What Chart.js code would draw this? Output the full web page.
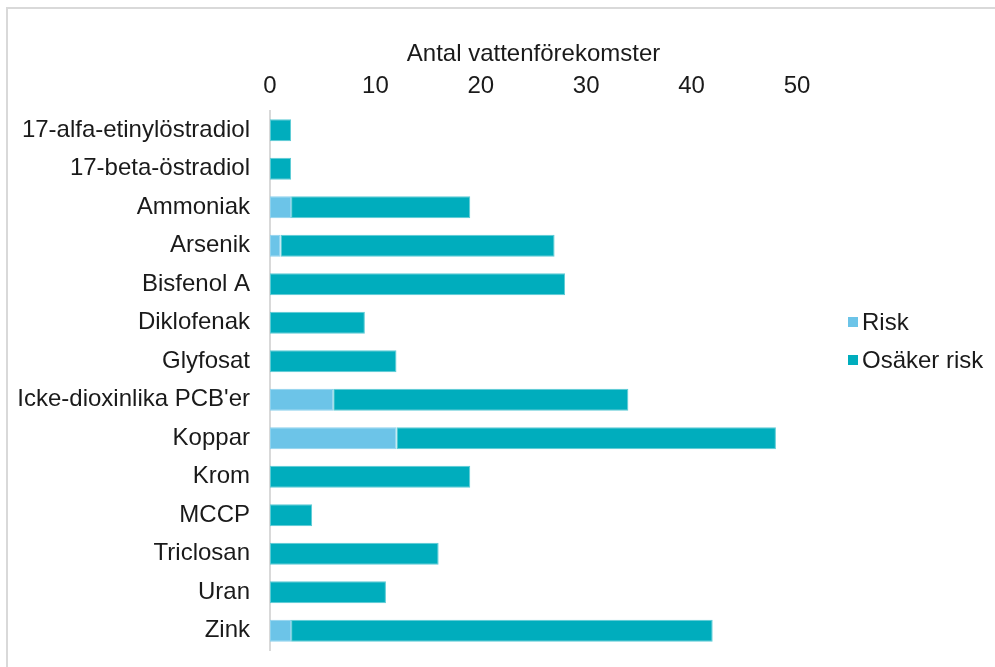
<!DOCTYPE html>
<html lang="sv">
<head>
<meta charset="utf-8">
<title>Antal vattenförekomster</title>
<script src="https://cdn.jsdelivr.net/npm/chart.js@4.4.1/dist/chart.umd.min.js"></script>
<style>
  html, body { margin: 0; padding: 0; background: #ffffff; overflow: hidden; }
  #wrap { position: relative; width: 995px; height: 667px; overflow: hidden; }
  #frame { position: absolute; left: 6px; top: 7px; width: 2000px; height: 2000px;
           border-left: 2px solid #d9d9d9; border-top: 2px solid #d9d9d9; box-sizing: border-box; }
  canvas { position: absolute; left: 0; top: 0; }
</style>
</head>
<body>
<div id="wrap">
  <div id="frame"></div>
  <canvas id="chart" width="995" height="667"></canvas>
</div>
<script>
// Ämnen (kategorier)
const substances = [
  "17-alfa-etinylöstradiol",
  "17-beta-östradiol",
  "Ammoniak",
  "Arsenik",
  "Bisfenol A",
  "Diklofenak",
  "Glyfosat",
  "Icke-dioxinlika PCB'er",
  "Koppar",
  "Krom",
  "MCCP",
  "Triclosan",
  "Uran",
  "Zink"
];

// Antal vattenförekomster med risk
const riskCounts = [0, 0, 2, 1, 0, 0, 0, 6, 12, 0, 0, 0, 0, 2];

// Antal vattenförekomster med osäker risk
const uncertainCounts = [2, 2, 17, 26, 28, 9, 12, 28, 36, 19, 4, 16, 11, 40];

// Axelns tickvärden
const axisTicks = [0, 10, 20, 30, 40, 50];

const seriesNames = ["Risk", "Osäker risk"];
const axisTitle = "Antal vattenförekomster";

const FONT = "'Liberation Sans', Arial, sans-serif";
const FONT_SIZE = 24;
const TEXT = "#1a1a1a";

// Förklaring till höger om diagramytan
const sideLegend = {
  id: "sideLegend",
  afterDraw(chart) {
    const { ctx, chartArea } = chart;
    const x0 = chartArea.right + 51;
    const step = 38;
    ctx.save();
    ctx.font = FONT_SIZE + "px " + FONT;
    ctx.textBaseline = "middle";
    ctx.textAlign = "left";
    chart.data.datasets.forEach((ds, i) => {
      const y = chartArea.top + 211 + i * step;
      ctx.fillStyle = ds.backgroundColor;
      ctx.fillRect(x0, y - 5, 10, 10);
      ctx.fillStyle = TEXT;
      ctx.fillText(ds.label, x0 + 14, y + 1);
    });
    ctx.restore();
  }
};

new Chart(document.getElementById("chart"), {
  type: "bar",
  data: {
    labels: substances,
    datasets: [
      {
        label: seriesNames[0],
        data: riskCounts,
        backgroundColor: "#6cc4e8",
        borderColor: "#8dd2ee",
        borderWidth: 1,
        borderSkipped: false
      },
      {
        label: seriesNames[1],
        data: uncertainCounts,
        backgroundColor: "#00adbd",
        borderColor: "#5ccbd5",
        borderWidth: 1,
        borderSkipped: false
      }
    ]
  },
  options: {
    indexAxis: "y",
    responsive: false,
    animation: false,
    devicePixelRatio: 1,
    layout: { padding: { top: 20, right: 198, bottom: 17, left: 0 } },
    datasets: { bar: { barPercentage: 1, categoryPercentage: 0.57 } },
    plugins: { legend: { display: false }, tooltip: { enabled: false } },
    scales: {
      x: {
        position: "top",
        stacked: true,
        min: 0,
        max: 50,
        afterBuildTicks(scale) { scale.ticks = axisTicks.map(v => ({ value: v })); },
        afterFit(scale) { scale.height = 91; },
        grid: { display: false, drawTicks: false },
        border: { display: false },
        ticks: {
          padding: 10,
          color: TEXT,
          font: { family: FONT, size: FONT_SIZE }
        },
        title: {
          display: true,
          text: axisTitle,
          color: TEXT,
          padding: { top: 20, bottom: 0 },
          font: { family: FONT, size: FONT_SIZE }
        }
      },
      y: {
        stacked: true,
        afterFit(scale) {
          scale.width = 270;
          scale.paddingTop = 0;
          scale.paddingBottom = 0;
        },
        grid: { display: false, drawTicks: false },
        border: { display: true, color: "#d9d9d9", width: 2 },
        ticks: {
          padding: 20,
          color: TEXT,
          font: { family: FONT, size: FONT_SIZE }
        }
      }
    }
  },
  plugins: [sideLegend]
});
</script>
</body>
</html>
